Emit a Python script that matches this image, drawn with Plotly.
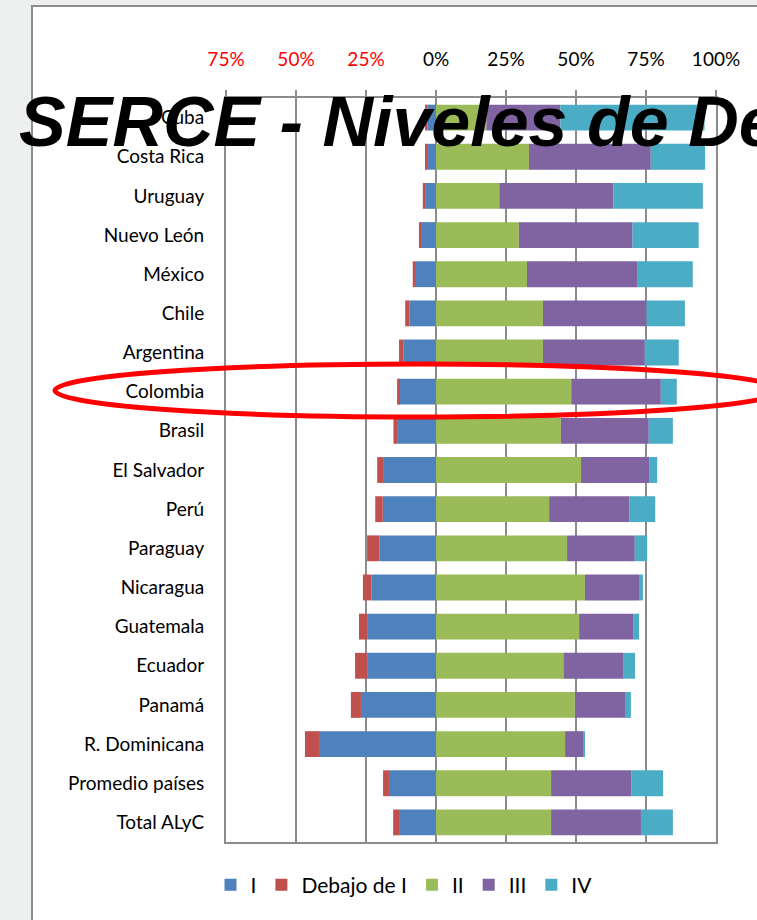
import plotly.graph_objects as go

countries = ["Cuba", "Costa Rica", "Uruguay", "Nuevo León", "México", "Chile",
             "Argentina", "Colombia", "Brasil", "El Salvador", "Perú", "Paraguay",
             "Nicaragua", "Guatemala", "Ecuador", "Panamá", "R. Dominicana",
             "Promedio países", "Total ALyC"]
nivel_I = [3.1, 3.3, 3.9, 5.4, 7.6, 9.5, 11.7, 13.2, 13.9, 18.9, 19.0, 20.2,
           23.1, 24.6, 24.6, 26.8, 41.8, 16.8, 13.2]
debajo_I = [0.8, 0.6, 0.8, 0.7, 0.7, 1.5, 1.5, 0.7, 1.3, 2.1, 2.7, 4.4,
            3.0, 2.9, 4.3, 3.6, 5.0, 2.1, 2.1]
nivel_II = [18.0, 33.2, 22.6, 29.6, 32.5, 38.2, 38.2, 48.3, 44.6, 51.8, 40.4, 46.8,
            53.2, 51.1, 45.5, 49.6, 46.1, 41.1, 41.1]
nivel_III = [26.4, 43.5, 40.7, 40.6, 39.3, 37.0, 36.4, 32.0, 31.4, 24.3, 28.6, 24.2,
             19.3, 19.3, 21.3, 17.9, 6.4, 28.6, 32.1]
nivel_IV = [51.5, 19.4, 32.0, 23.6, 19.9, 13.7, 12.1, 5.7, 8.6, 2.9, 9.3, 4.4,
            1.4, 2.1, 4.3, 2.1, 0.7, 11.4, 11.4]
tick_vals = [-75, -50, -25, 0, 25, 50, 75, 100]
tick_text = ["75%", "50%", "25%", "0%", "25%", "50%", "75%", "100%"]

W, H = 757, 920
FONT = "Lato"
GRID = "#8c8c8c"

colors = {"I": "#4F81BD", "Debajo de I": "#C0504D", "II": "#9BBB59",
          "III": "#8064A2", "IV": "#4BACC6"}

fig = go.Figure()
series = [("I", [-v for v in nivel_I]), ("Debajo de I", [-v for v in debajo_I]),
          ("II", nivel_II), ("III", nivel_III), ("IV", nivel_IV)]
for name, vals in series:
    fig.add_trace(go.Bar(y=countries, x=vals, name=name, orientation="h",
                         marker=dict(color=colors[name], line=dict(width=0))))

# plot area geometry (pixels)
px0, px1, py0, py1 = 226, 716, 98, 842
xd = [px0 / W, px1 / W]
yd = [(H - py1) / H, (H - py0) / H]
xmin, xmax = tick_vals[0], tick_vals[-1]
zero_pos = xd[0] + (0 - xmin) / (xmax - xmin) * (xd[1] - xd[0])

ticktext = [f"<span style='color:#FF0000'>{t}</span>" if v < 0 else t
            for v, t in zip(tick_vals, tick_text)]

n = len(countries)
fig.update_layout(
    width=W, height=H,
    margin=dict(l=0, r=0, t=0, b=0, autoexpand=False),
    paper_bgcolor="#eef0f0",
    plot_bgcolor="rgba(0,0,0,0)",
    barmode="relative",
    bargap=0.34,
    font=dict(family=FONT, color="#000000", size=19),
    xaxis=dict(domain=xd, range=[xmin, xmax], side="top", automargin=False,
               tickvals=tick_vals, ticktext=ticktext,
               showgrid=True, gridcolor=GRID, gridwidth=2,
               zeroline=False, showline=True, mirror=True,
               linecolor=GRID, linewidth=2,
               ticks="outside", ticklen=6, tickcolor=GRID, tickwidth=2,
               ticklabelstandoff=16,
               tickfont=dict(size=19, family=FONT)),
    yaxis=dict(domain=yd, categoryorder="array", categoryarray=countries,
               autorange="reversed", showgrid=False, zeroline=False,
               automargin=False,
               showline=True, mirror=True, linecolor=GRID, linewidth=2,
               ticks="", ticklabelstandoff=16,
               tickfont=dict(size=19, family=FONT)),
    yaxis2=dict(overlaying="y", anchor="free", position=zero_pos, side="left",
                range=[n - 0.5, -0.5], automargin=False,
                tickvals=[k - 0.5 for k in range(n + 1)],
                showticklabels=False, ticks="outside", ticklen=6,
                tickcolor=GRID, tickwidth=2, showline=True,
                linecolor=GRID, linewidth=2, showgrid=False, zeroline=False),
    legend=dict(orientation="h", x=404 / W, xanchor="center",
                y=(H - 885) / H, yanchor="middle",
                font=dict(size=21, family=FONT), traceorder="normal",
                bgcolor="rgba(0,0,0,0)"),
    showlegend=True,
)

# white slide frame
fig.add_shape(type="rect", xref="paper", yref="paper",
              x0=32 / W, x1=1.05, y0=-0.05, y1=(H - 6) / H,
              fillcolor="#ffffff", line=dict(color="#8c8c8c", width=2),
              layer="below")

# highlight ellipse around Colombia
fig.add_shape(type="circle", xref="paper", yref="paper",
              x0=55 / W, x1=782 / W, y0=(H - 417) / H, y1=(H - 364) / H,
              line=dict(color="#FF0000", width=5), fillcolor="rgba(0,0,0,0)",
              layer="above")

# overlaid slide title
fig.add_annotation(text="SERCE - Niveles de Desempeño", xref="paper", yref="paper",
                   x=17 / W, y=(H - 122) / H, xanchor="left", yanchor="middle",
                   showarrow=False,
                   font=dict(family="Liberation Sans", size=70, color="#000000",
                             weight="bold", style="italic"))

fig.write_html("out.html",
               config={"displayModeBar": False},
               post_script="document.body.style.margin='0';"
                           "document.body.style.overflow='hidden';")
